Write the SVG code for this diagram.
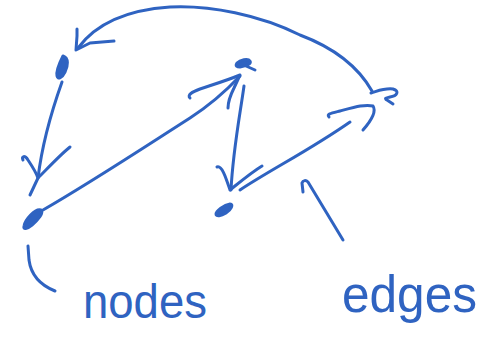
<svg xmlns="http://www.w3.org/2000/svg" width="500" height="347" viewBox="0 0 500 347">
<style>
.ink{fill:none;stroke:#2f63c1;stroke-width:3;stroke-linecap:round;stroke-linejoin:round}
.blob{fill:#2f63c1;stroke:#2f63c1;stroke-width:3;stroke-linejoin:round}
.lbl{font-family:"Liberation Sans",Arial,sans-serif;fill:#2f63c1;font-weight:normal}
</style>
<rect width="500" height="347" fill="#fff"/>
<g id="node-a"><path class="blob" d="M63,56 C69,58 68,66 65,72 C62,78 58,80 57,76 C56,72 60,62 63,56 Z"/></g>
<g id="node-b"><path class="blob" d="M41,210 C44,213 38,220 32,225 C27,229 23,230 24,226 C25,220 35,208 41,210 Z"/></g>
<g id="node-c"><path class="blob" d="M237,63 C240,60 248,58 250,61 C252,64 246,66 240,67 C237,67 235,66 237,63 Z"/><path class="ink" d="M246,66 L255,70"/></g>
<g id="node-d"><path class="blob" d="M230,204 C234,204 231,210 226,213 C221,216 216,217 216,214 C216,211 224,205 230,204 Z"/></g>
<g id="node-e"><path class="ink" d="M371,93 C378,91 384,88 393,89 C400,91 397,96 390,97 C386,98 384,98 387,100 L393,104"/></g>
<g id="connectors">
<path class="ink" d="M372,91 C360,70 340,50 300,35 C260,15 210,5 170,7 C125,10 95,25 78,48"/>
<path class="ink" d="M77,29 L77,36 L76,50 L90,43 L114,41"/>
<path class="ink" d="M62,82 C52,110 42,145 38,178 L30,195"/>
<path class="ink" d="M23,160 C21,156 25,155 28,160 C32,166 36,172 38,178 C48,168 60,155 70,147"/>
<path class="ink" d="M43,210 C90,183 140,150 190,118 C210,105 225,92 240,76"/>
<path class="ink" d="M190,98 C187,95 192,92 200,89 C215,84 228,80 240,75 L234,88 C230,96 228,102 228,108"/>
<path class="ink" d="M244,86 C240,115 233,150 231,190"/>
<path class="ink" d="M217,167 C222,165 226,178 230,190 C240,182 252,172 262,166"/>
<path class="ink" d="M240,190 C270,170 310,150 350,122"/>
<path class="ink" d="M329,117 C326,114 332,113 340,111 C355,107 365,104 373,106 C377,112 370,122 363,130"/>
<path class="ink" d="M303,192 L302,183 C303,180 306,180 308,182 C320,202 332,222 343,240"/>
<path class="ink" d="M28,246 L29,260 C31,275 40,285 55,291"/>
</g>
<g id="label-nodes"><text class="lbl" x="83" y="318" font-size="48" textLength="124" lengthAdjust="spacingAndGlyphs">nodes</text></g>
<g id="label-edges"><text class="lbl" x="342" y="312" font-size="52" textLength="135" lengthAdjust="spacingAndGlyphs">edges</text></g>
</svg>
